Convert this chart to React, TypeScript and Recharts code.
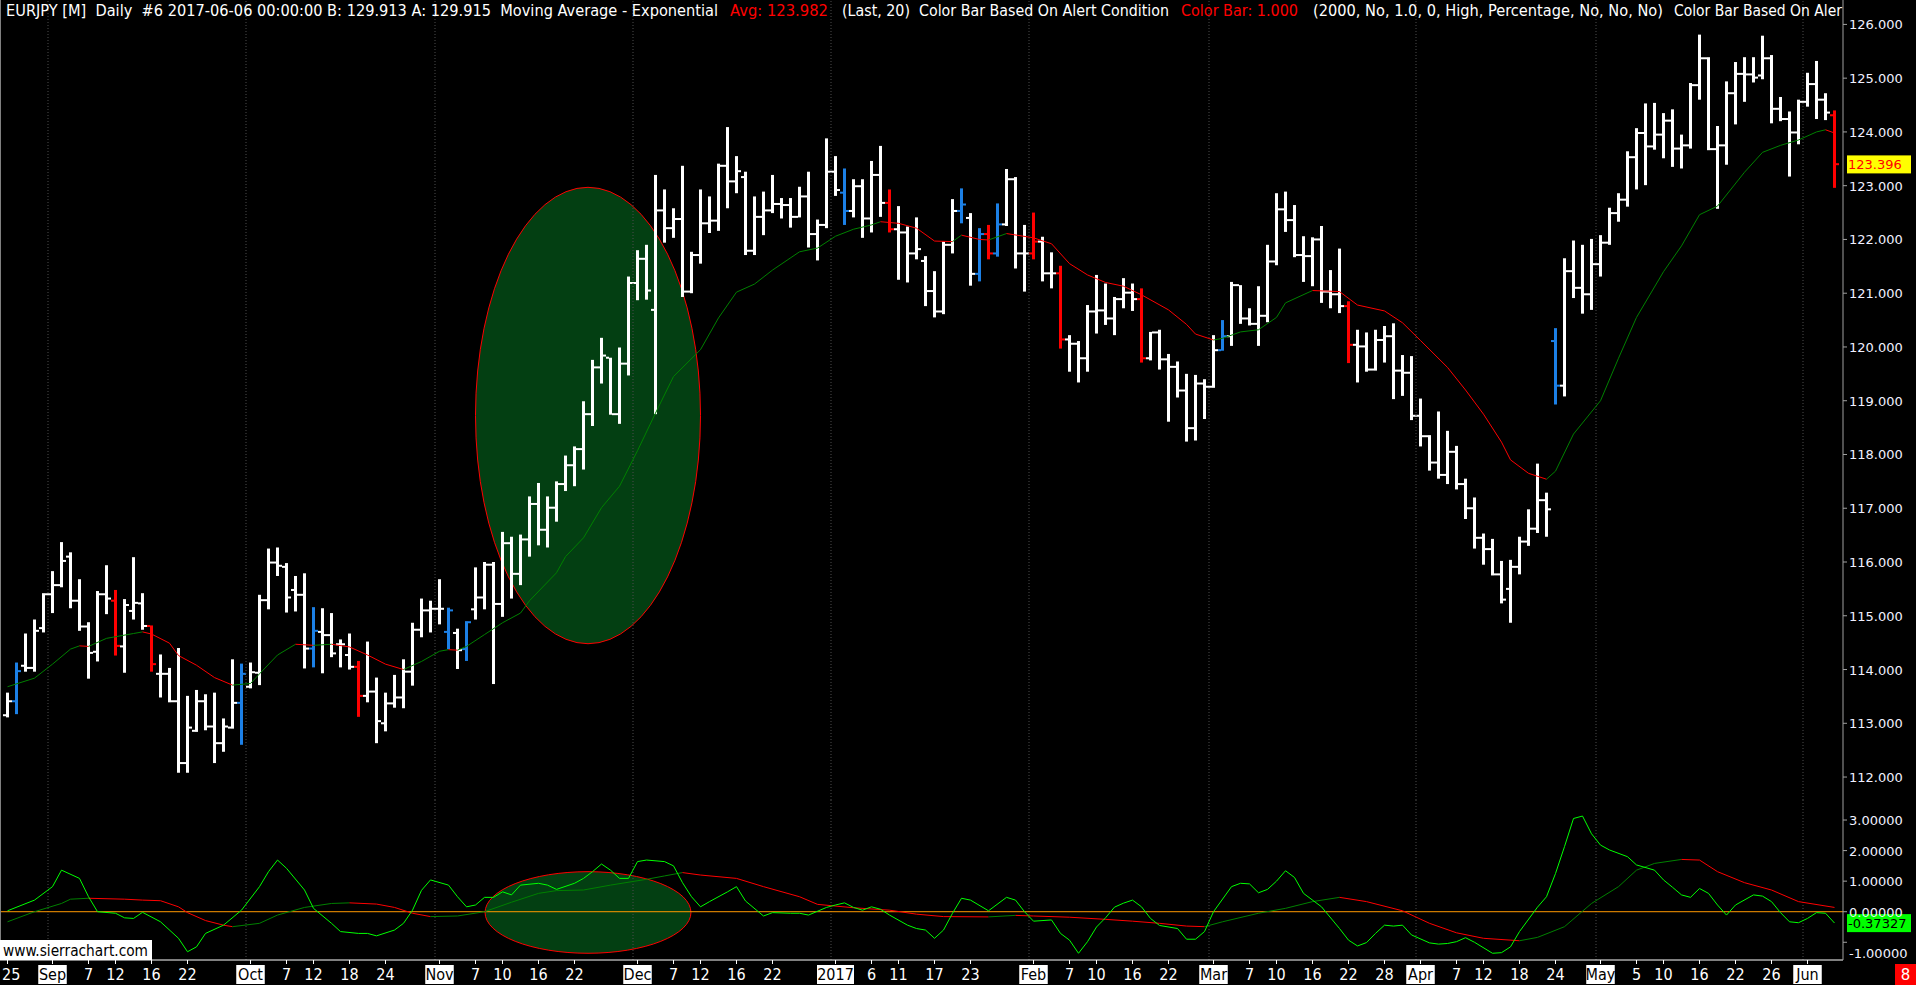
import React from "react";
import {
  ComposedChart,
  Bar,
  Line,
  XAxis,
  YAxis,
  ReferenceLine,
  ReferenceArea,
} from "recharts";

// EURJPY daily bars, 2016-08-25 .. 2017-06-06 (index = trading day)
const opens = [
  113.15, 113.41, 114.07, 114.03, 114.77, 115.4, 115.57, 116.1, 115.28, 114.8,
  114.33, 115.4, 115.28, 114.43, 115.09, 115.23, 114.81, 113.92, 113.92, 113.41,
  112.26, 112.86, 113.41, 112.94, 112.63, 112.92, 113.38, 113.68, 113.94, 115.29,
  115.99, 115.91, 115.48, 115.39, 114.39, 114.7, 114.64, 114.47, 114.27, 114.05,
  113.51, 113.59, 113.0, 113.37, 113.48, 113.96, 114.74, 115.1, 115.13, 114.7,
  114.68, 114.38, 115.12, 115.34, 115.95, 115.22, 116.35, 115.78, 116.42, 117.08,
  116.6, 117.01, 117.45, 117.8, 118.1, 118.75, 119.62, 119.8, 118.75, 119.69,
  121.19, 121.64, 120.69, 122.54, 122.21, 122.38, 121.03, 121.71, 122.3, 122.35,
  123.37, 123.08, 123.16, 121.79, 122.42, 122.54, 122.66, 122.64, 122.42, 122.8,
  122.1, 122.27, 123.26, 122.87, 122.53, 122.99, 122.39, 123.2, 122.68, 122.19,
  122.13, 121.74, 121.6, 121.04, 120.66, 121.9, 122.53, 122.4, 121.36, 122.1,
  121.74, 122.28, 123.12, 121.74, 121.74, 121.96, 121.37, 121.37, 120.14, 120.06,
  119.79, 120.66, 120.68, 120.53, 120.89, 121.01, 120.89, 119.79, 120.27, 119.77,
  119.63, 119.19, 118.49, 119.32, 119.26, 119.94, 120.2, 121.15, 120.53, 120.43,
  120.58, 121.59, 122.56, 122.36, 121.71, 121.69, 122.0, 121.03, 120.98, 120.76,
  120.04, 120.01, 119.58, 120.13, 120.2, 119.56, 119.52, 118.72, 118.34, 117.85,
  117.62, 118.05, 117.45, 117.0, 116.45, 116.24, 115.77, 115.5, 115.91, 116.38,
  116.62, 117.15, 120.11, 119.28, 121.41, 121.1, 120.98, 121.54, 121.94, 122.49,
  122.74, 123.53, 123.98, 123.73, 123.95, 124.21, 123.69, 123.75, 124.87, 125.37,
  123.68, 123.75, 124.72, 125.08, 125.07, 125.05, 125.37, 124.43, 124.24, 123.99,
  124.56, 124.89, 124.6, 124.31,
];
const highs = [
  113.57, 114.13, 114.67, 114.93, 115.42, 115.83, 116.37, 116.18, 115.68, 114.88,
  115.46, 115.94, 115.48, 115.31, 116.09, 115.42, 114.82, 114.28, 114.03, 114.4,
  113.51, 113.62, 113.54, 113.57, 113.09, 114.19, 114.11, 114.13, 115.39, 116.25,
  116.27, 115.98, 115.74, 115.79, 115.16, 115.14, 115.05, 114.56, 114.67, 114.16,
  114.52, 113.85, 113.57, 113.9, 114.19, 114.87, 115.32, 115.28, 115.68, 115.15,
  114.76, 114.9, 115.9, 116.0, 116.0, 116.56, 116.47, 116.51, 117.22, 117.47,
  117.22, 117.5, 117.98, 118.15, 118.99, 119.76, 120.17, 119.8, 119.99, 121.31,
  121.8, 121.9, 123.2, 122.93, 122.58, 123.37, 121.77, 122.93, 122.8, 123.41,
  124.09, 123.55, 123.26, 122.8, 122.89, 123.2, 122.77, 122.77, 122.98, 123.26,
  122.37, 123.88, 123.55, 123.32, 123.12, 123.12, 123.46, 123.74, 122.93, 122.62,
  122.24, 122.41, 121.69, 121.41, 121.96, 122.75, 122.95, 122.49, 122.21, 122.27,
  122.67, 123.31, 123.16, 122.27, 122.5, 122.05, 121.76, 121.51, 120.22, 120.11,
  120.78, 121.34, 121.18, 120.93, 121.28, 121.18, 121.09, 120.28, 120.32, 119.87,
  119.73, 119.5, 119.48, 119.4, 120.22, 120.5, 121.21, 121.15, 120.72, 121.13,
  121.9, 122.86, 122.89, 122.64, 122.06, 122.04, 122.25, 121.43, 121.83, 120.85,
  120.32, 120.27, 120.32, 120.39, 120.44, 119.85, 119.83, 119.04, 118.36, 118.8,
  118.44, 118.16, 117.55, 117.2, 116.53, 116.43, 116.02, 116.04, 116.47, 116.98,
  117.83, 117.29, 120.35, 121.65, 121.98, 121.9, 122.01, 122.08, 122.59, 122.86,
  123.64, 124.07, 124.53, 124.54, 124.35, 124.42, 123.95, 124.91, 125.81, 125.39,
  124.11, 124.94, 125.3, 125.39, 125.39, 125.79, 125.43, 124.65, 124.38, 124.6,
  125.1, 125.32, 124.72, 124.4,
];
const lows = [
  113.11, 113.17, 113.96, 113.96, 114.69, 115.05, 115.53, 115.14, 114.72, 113.83,
  114.15, 115.03, 114.26, 113.94, 114.93, 114.74, 113.96, 113.48, 113.39, 112.08,
  112.08, 112.84, 112.87, 112.26, 112.47, 112.9, 112.6, 113.65, 113.71, 115.12,
  115.74, 115.06, 115.08, 114.02, 114.04, 113.93, 114.23, 114.04, 114.0, 113.12,
  113.39, 112.63, 112.85, 113.29, 113.28, 113.7, 114.6, 114.69, 114.84, 114.38,
  114.01, 114.16, 114.93, 115.12, 113.73, 114.98, 115.32, 115.57, 116.1, 116.31,
  116.27, 116.75, 117.32, 117.41, 117.72, 118.53, 119.32, 118.74, 118.57, 119.47,
  120.87, 120.88, 118.75, 121.94, 122.03, 120.93, 121.0, 121.55, 122.12, 122.16,
  122.58, 122.86, 121.71, 121.71, 122.08, 122.49, 122.39, 122.22, 122.41, 121.85,
  121.61, 122.21, 122.81, 122.27, 122.41, 122.03, 122.13, 122.42, 122.13, 121.25,
  121.2, 121.63, 120.76, 120.55, 120.61, 121.74, 122.3, 121.14, 121.22, 121.63,
  121.68, 122.25, 121.46, 121.03, 121.63, 121.22, 121.09, 119.97, 119.54, 119.34,
  119.54, 120.25, 120.41, 120.22, 120.72, 120.67, 119.71, 119.75, 119.58, 118.61,
  119.06, 118.24, 118.26, 118.66, 119.24, 119.93, 120.02, 120.43, 120.4, 120.02,
  120.46, 121.52, 122.14, 121.67, 121.21, 121.13, 120.82, 120.72, 120.63, 119.7,
  119.34, 119.54, 119.56, 119.71, 119.03, 119.09, 118.64, 118.15, 117.7, 117.55,
  117.45, 117.35, 116.8, 116.25, 115.95, 115.75, 115.23, 114.87, 115.77, 116.3,
  116.54, 116.47, 118.93, 119.08, 120.91, 120.62, 120.69, 121.31, 121.9, 122.33,
  122.61, 122.93, 123.01, 123.67, 123.51, 123.35, 123.32, 123.69, 124.6, 123.66,
  122.57, 123.39, 124.14, 124.56, 124.92, 124.98, 124.16, 124.2, 123.17, 123.77,
  124.47, 124.24, 124.22, 122.96,
];
const closes = [
  113.41, 113.97, 114.03, 114.72, 115.4, 115.57, 116.02, 115.28, 114.8, 114.31,
  115.4, 115.32, 114.44, 115.2, 115.24, 114.81, 114.1, 113.92, 113.41, 112.26,
  112.92, 113.41, 112.94, 112.63, 112.94, 113.38, 113.92, 113.95, 115.29, 115.99,
  115.93, 115.34, 115.39, 114.39, 114.72, 114.64, 114.3, 114.47, 114.05, 113.51,
  113.59, 113.04, 113.37, 113.48, 113.96, 114.74, 115.1, 115.13, 115.13, 115.1,
  114.36, 114.88, 115.34, 115.95, 115.22, 116.35, 115.78, 116.42, 117.08, 116.6,
  117.01, 117.45, 117.8, 118.1, 118.75, 119.62, 119.84, 118.75, 119.69, 121.19,
  121.64, 121.05, 122.54, 122.21, 122.38, 121.03, 121.71, 122.3, 122.35, 123.37,
  123.08, 123.27, 121.79, 122.42, 122.54, 122.66, 122.64, 122.42, 122.8, 122.1,
  122.27, 123.26, 122.92, 122.53, 122.99, 122.39, 123.2, 122.68, 122.19, 122.13,
  121.74, 121.82, 121.04, 120.66, 121.9, 122.53, 122.65, 121.36, 122.1, 121.74,
  122.28, 123.12, 121.74, 121.74, 121.96, 121.37, 121.37, 120.14, 120.06, 119.79,
  120.66, 120.68, 120.53, 120.89, 121.01, 120.89, 119.79, 120.27, 119.77, 119.63,
  119.19, 118.49, 119.32, 119.26, 119.94, 120.2, 121.15, 120.53, 120.43, 120.58,
  121.59, 122.56, 122.36, 121.71, 121.69, 122.0, 121.03, 120.98, 120.76, 120.04,
  120.01, 119.58, 120.13, 120.2, 119.56, 119.52, 118.72, 118.34, 117.85, 117.62,
  118.05, 117.45, 117.0, 116.45, 116.24, 115.77, 115.3, 115.91, 116.38, 116.62,
  117.15, 116.98, 119.28, 121.41, 121.1, 120.98, 121.54, 121.94, 122.49, 122.74,
  123.53, 123.98, 123.73, 123.95, 124.21, 123.69, 123.75, 124.87, 125.37, 123.68,
  123.75, 124.72, 125.08, 125.07, 125.01, 125.37, 124.43, 124.24, 123.99, 124.56,
  124.89, 124.6, 124.36, 123.4,
];

// bars painted by the alert condition
const blueBars = [1, 26, 34, 49, 51, 93, 106, 108, 110, 135, 172];
const redBars = [12, 16, 39, 98, 109, 114, 117, 126, 149, 203];

// 20 period exponential moving average, read at its bends
const emaAt = [
  0, 3, 5, 7, 8, 9, 11, 14, 15, 16, 18, 19, 21, 23, 25, 27, 28, 30, 32, 34,
  36, 38, 40, 42, 44, 46, 48, 49, 50, 51, 53, 55, 57, 58, 61, 62, 64, 66, 68, 70,
  72, 74, 77, 79, 81, 83, 85, 88, 90, 92, 94, 96, 97, 99, 101, 103, 105, 106, 108, 109,
  111, 114, 116, 118, 120, 122, 124, 126, 129, 131, 132, 134, 135, 137, 139, 141, 142, 145, 148, 150,
  153, 155, 157, 160, 162, 164, 166, 167, 169, 171, 172, 174, 177, 179, 181, 184, 186, 188, 190, 193,
  195, 197, 199, 201, 202, 203,
];
const emaVal = [
  113.68, 113.84, 114.1, 114.38, 114.44, 114.43, 114.58, 114.67, 114.7, 114.66,
  114.49, 114.26, 114.08, 113.85, 113.71, 113.74, 113.92, 114.27, 114.47, 114.45,
  114.47, 114.42, 114.27, 114.1, 114.0, 114.15, 114.34, 114.37, 114.36, 114.43,
  114.65, 114.87, 115.05, 115.28, 115.8, 116.1, 116.45, 117.01, 117.41, 118.07,
  118.77, 119.45, 119.95, 120.54, 121.02, 121.17, 121.43, 121.77, 121.84, 122.06,
  122.19, 122.27, 122.33, 122.3, 122.21, 121.97, 121.96, 122.08, 122.0, 121.99,
  122.11, 122.03, 121.92, 121.55, 121.34, 121.2, 121.13, 120.97, 120.69, 120.42,
  120.24, 120.13, 120.16, 120.28, 120.32, 120.55, 120.82, 121.05, 121.03, 120.78,
  120.67, 120.45, 120.12, 119.62, 119.2, 118.75, 118.23, 117.9, 117.65, 117.54,
  117.69, 118.38, 119.0, 119.79, 120.55, 121.4, 121.88, 122.46, 122.62, 123.25,
  123.62, 123.75, 123.85, 124.0, 124.04, 123.98,
];

// lower study: oscillator (bright green) and its average (green/red)
const oscAt = [
  0, 3, 5, 6, 8, 9, 10, 12, 13, 14, 15, 17, 19, 20, 21, 22, 24, 26, 28, 29,
  30, 31, 33, 34, 36, 37, 39, 40, 41, 43, 44, 45, 46, 47, 49, 50, 51, 52, 53, 54,
  55, 56, 57, 59, 60, 61, 63, 64, 65, 66, 67, 68, 69, 70, 71, 73, 74, 75, 76, 77,
  78, 80, 81, 82, 84, 85, 87, 88, 89, 91, 92, 93, 94, 95, 96, 97, 98, 100, 101, 102,
  103, 104, 105, 106, 107, 109, 111, 112, 113, 114, 116, 117, 118, 119, 120, 121, 122, 123, 124, 125,
  126, 127, 128, 130, 131, 132, 133, 134, 136, 137, 138, 139, 140, 141, 142, 143, 144, 146, 148, 149,
  150, 151, 152, 153, 154, 155, 156, 158, 159, 160, 161, 162, 163, 165, 166, 167, 168, 170, 171, 172,
  173, 174, 175, 176, 177, 178, 180, 181, 183, 184, 185, 186, 187, 188, 189, 190, 191, 192, 194, 195,
  196, 197, 198, 199, 200, 201, 202, 203,
];
const oscVal = [
  0.03, 0.38, 0.82, 1.36, 1.09, 0.49, 0.0, -0.05, -0.2, -0.22,
  -0.02, -0.33, -0.87, -1.31, -1.15, -0.71, -0.44, 0.05, 0.82, 1.31,
  1.69, 1.42, 0.71, 0.11, -0.38, -0.65, -0.71, -0.71, -0.79, -0.6,
  -0.38, 0.05, 0.7, 1.04, 0.87, 0.49, 0.16, 0.22, 0.47, 0.47,
  0.65, 0.55, 0.87, 0.93, 0.87, 0.73, 0.93, 1.09, 1.31, 1.56,
  1.36, 1.09, 1.09, 1.64, 1.69, 1.64, 1.5, 0.95, 0.49, 0.16,
  0.33, 0.65, 0.82, 0.35, -0.14, -0.03, -0.05, -0.05, -0.11, 0.14,
  0.22, 0.29, 0.14, 0.05, 0.16, 0.08, -0.11, -0.44, -0.55, -0.6,
  -0.87, -0.6, -0.05, 0.44, 0.38, 0.03, 0.47, 0.38, 0.0, -0.31,
  -0.27, -0.71, -0.93, -1.36, -0.98, -0.5, -0.2, 0.15, 0.28, 0.38,
  0.16, -0.22, -0.45, -0.55, -0.9, -0.9, -0.65, 0.0, 0.82, 0.93,
  0.91, 0.62, 0.73, 1.0, 1.34, 1.12, 0.6, 0.16, -0.55, -0.93,
  -1.12, -1.01, -0.71, -0.44, -0.47, -0.44, -0.76, -1.02, -1.06, -1.04,
  -0.98, -0.85, -1.0, -1.36, -1.34, -1.15, -0.65, 0.15, 0.49, 1.25,
  2.13, 3.05, 3.13, 2.55, 2.18, 2.02, 1.8, 1.53, 1.36, 1.04,
  0.8, 0.55, 0.47, 0.76, 0.6, 0.22, -0.11, 0.22, 0.55, 0.51,
  0.33, -0.03, -0.33, -0.36, -0.22, -0.03, -0.05, -0.37,
];
const sigAt = [
  0, 3, 6, 7, 9, 13, 15, 17, 19, 20, 22, 24, 25, 28, 30, 33, 36, 38, 41, 43,
  45, 47, 50, 53, 56, 59, 61, 64, 67, 71, 73, 75, 77, 81, 84, 88, 90, 94, 98, 101,
  104, 109, 112, 114, 118, 122, 125, 128, 131, 133, 135, 139, 142, 145, 148, 151, 155, 158, 161, 164,
  168, 170, 173, 176, 179, 181, 183, 186, 188, 190, 193, 196, 199, 203,
];
const sigVal = [
  -0.33, 0.0, 0.27, 0.41, 0.44, 0.41, 0.38, 0.36, 0.16, -0.03,
  -0.29, -0.44, -0.49, -0.38, -0.11, 0.14, 0.27, 0.29, 0.25, 0.14,
  -0.05, -0.16, -0.14, 0.0, 0.31, 0.6, 0.69, 0.71, 0.87, 1.06,
  1.17, 1.28, 1.2, 1.09, 0.82, 0.49, 0.24, 0.13, 0.05, -0.08,
  -0.16, -0.17, -0.12, -0.14, -0.18, -0.25, -0.31, -0.38, -0.47, -0.49,
  -0.33, -0.05, 0.11, 0.33, 0.47, 0.33, 0.03, -0.38, -0.69, -0.87,
  -0.95, -0.84, -0.49, 0.27, 0.82, 1.36, 1.58, 1.71, 1.69, 1.31,
  0.95, 0.71, 0.33, 0.14,
];

// date axis
const tickAt = [
  0, 5, 9, 12, 16, 20, 27, 31, 34, 38, 42, 48, 52, 55, 59, 63, 70, 74, 77, 81,
  85, 92, 96, 99, 103, 107, 114, 118, 121, 125, 129, 134, 138, 141, 145, 149, 153, 157, 161, 164,
  168, 172, 177, 181, 184, 188, 192, 196, 200,
];
const tickText = [
  "25", "Sep", "7", "12", "16", "22", "Oct", "7", "12", "18", "24", "Nov", "7", "10", "16", "22",
  "Dec", "7", "12", "16", "22", "2017", "6", "11", "17", "23", "Feb", "7", "10", "16", "22",
  "Mar", "7", "10", "16", "22", "28", "Apr", "7", "12", "18", "24", "May", "5", "10", "16", "22",
  "26", "Jun",
];
const monthStarts = [5, 27, 48, 70, 92, 114, 134, 157, 177, 200];

const priceTicks = [112, 113, 114, 115, 116, 117, 118, 119, 120, 121, 122, 123, 124, 125, 126];
const studyTicks = [-1, 0, 1, 2, 3];

const lastPrice = 123.396;
const lastStudy = -0.37327;

// drawings: [x1, x2, y1, y2]
const priceEllipse = [52, 77, 114.48, 122.97];
const studyEllipse = [53.06, 75.94, -1.36, 1.31];

const X_DOMAIN: [number, number] = [-7.5 / 9, (1843 - 7.5) / 9];
const COND = "'Liberation Sans Narrow','DejaVu Sans Condensed','Liberation Sans',sans-serif";
const AXIS_FONT = "'DejaVu Sans',Verdana,sans-serif";
const UP = "#008000";
const DOWN = "#ff0000";
const TONES = ["#ffffff", "#1c80e6", "#ff0000"];

type Run = { key: string; up: boolean; pts: [number, number][] };

function toRuns(prefix: string, at: number[], val: number[]): Run[] {
  const runs: Run[] = [];
  for (let k = 0; k + 1 < at.length; k++) {
    const up = val[k + 1] >= val[k];
    const cur = runs[runs.length - 1];
    if (cur && cur.up === up) cur.pts.push([at[k + 1], val[k + 1]]);
    else
      runs.push({
        key: `${prefix}${runs.length}`,
        up,
        pts: [
          [at[k], val[k]],
          [at[k + 1], val[k + 1]],
        ],
      });
  }
  return runs;
}

const emaRuns = toRuns("ema", emaAt, emaVal);
const sigRuns = toRuns("sig", sigAt, sigVal);

const rows: Record<string, any>[] = closes.map((c, i) => ({
  i,
  hl: [lows[i], highs[i]],
  o: opens[i],
  h: highs[i],
  l: lows[i],
  c,
  tone: blueBars.includes(i) ? 1 : redBars.includes(i) ? 2 : 0,
}));
for (const r of [...emaRuns, ...sigRuns]) {
  for (const [i, v] of r.pts) rows[i][r.key] = v;
}
oscAt.forEach((i, k) => {
  rows[i].osc = oscVal[k];
});

function OhlcBar(props: any) {
  const { x, y, width, height, payload } = props;
  if (x == null || !payload) return null;
  const cx = x + width / 2;
  const top = Math.min(y, y + height);
  const h = Math.abs(height);
  const span = payload.h - payload.l || 1;
  const py = (v: number) => top + ((payload.h - v) / span) * h;
  const fill = TONES[payload.tone];
  return (
    <g>
      <rect x={cx - 1.5} y={top} width={3} height={Math.max(h, 1)} fill={fill} />
      <rect x={cx - 4.5} y={py(payload.o) - 1} width={3} height={2} fill={fill} />
      <rect x={cx + 1.5} y={py(payload.c) - 1} width={3} height={2} fill={fill} />
    </g>
  );
}

function EllipseShape(props: any) {
  const { x, y, width, height } = props;
  return (
    <ellipse
      cx={x + width / 2}
      cy={y + height / 2}
      rx={Math.abs(width) / 2}
      ry={Math.abs(height) / 2}
      fill="#033f12"
      stroke="#ff0000"
      strokeWidth={1}
    />
  );
}

function PriceTick(props: any) {
  const { x, y, payload } = props;
  return (
    <text x={x} y={y} dy={5} fill="#f0f0ff" fontSize={13} fontFamily={AXIS_FONT}>
      {payload.value.toFixed(3)}
    </text>
  );
}

function StudyTick(props: any) {
  const { x, y, payload } = props;
  return (
    <text
      x={x}
      y={y}
      dy={payload.value === -1 ? 16 : 5}
      fill="#f0f0ff"
      fontSize={13}
      fontFamily={AXIS_FONT}
    >
      {payload.value.toFixed(5)}
    </text>
  );
}

function DateTick(props: any) {
  const { x, y, payload } = props;
  const k = tickAt.indexOf(payload.value);
  if (k < 0) return null;
  const label = tickText[k];
  const isMonth = monthStarts.includes(payload.value);
  const w = label.length * 8.5 + 3;
  const atEdge = x - w / 2 < 1;
  return (
    <g>
      <line x1={x} x2={x} y1={y} y2={y + 4} stroke="#ffffff" />
      {isMonth && <rect x={x - w / 2} y={y + 5} width={w} height={19} fill="#ffffff" />}
      <text
        x={atEdge ? 2 : x}
        y={y + 20}
        textAnchor={atEdge ? "start" : "middle"}
        fill={isMonth ? "#000000" : "#ffffff"}
        fontSize={16}
        fontFamily={COND}
        style={{ fontStretch: "condensed" }}
      >
        {label}
      </text>
    </g>
  );
}

function ValueTag({ viewBox, text, bg, fg }: any) {
  if (!viewBox) return null;
  const x = viewBox.x + viewBox.width + 4;
  const y = viewBox.y;
  return (
    <g>
      <rect x={x} y={y - 9} width={64} height={18} fill={bg} />
      <text x={x + 1} y={y + 5} fill={fg} fontSize={13} fontFamily={AXIS_FONT}>
        {text}
      </text>
    </g>
  );
}

const gridLines = (prefix: string) =>
  monthStarts.map((m) => (
    <ReferenceLine
      key={`${prefix}${m}`}
      x={m - 0.5}
      stroke="#4c4c4c"
      strokeDasharray="1 2"
    />
  ));

// study title line at the top of the price pane
const headerParts = [
  { x: 6, w: 712, red: false, text: "EURJPY [M]  Daily  #6 2017-06-06 00:00:00 B: 129.913 A: 129.915  Moving Average - Exponential" },
  { x: 730, w: 98, red: true, text: "Avg: 123.982" },
  { x: 842, w: 327, red: false, text: "(Last, 20)  Color Bar Based On Alert Condition" },
  { x: 1181, w: 117, red: true, text: "Color Bar: 1.000" },
  { x: 1313, w: 350, red: false, text: "(2000, No, 1.0, 0, High, Percentage, No, No, No)" },
  { x: 1674, w: 168, red: false, text: "Color Bar Based On Aler" },
];

function Header() {
  return (
    <svg
      width={1916}
      height={985}
      style={{ position: "absolute", left: 0, top: 0, pointerEvents: "none" }}
    >
      {headerParts.map((p) => (
        <text
          key={p.x}
          x={p.x}
          y={16}
          fontSize={15}
          fontFamily={COND}
          fill={p.red ? "#ff0000" : "#ffffff"}
          textLength={p.w}
          lengthAdjust="spacingAndGlyphs"
          style={{ whiteSpace: "pre" }}
        >
          {p.text}
        </text>
      ))}
      <line x1={0.5} x2={0.5} y1={0} y2={960} stroke="#808080" />
      <rect x={0} y={940} width={152} height={20} fill="#ffffff" />
      <text
        x={3}
        y={956}
        fontSize={15}
        fontFamily={COND}
        fill="#000000"
        textLength={145}
        lengthAdjust="spacingAndGlyphs"
      >
        www.sierrachart.com
      </text>
      <rect x={1895} y={964} width={21} height={21} fill="#ff0000" />
      <text x={1905.5} y={980} textAnchor="middle" fontSize={15} fontFamily={AXIS_FONT} fill="#ffffff">
        8
      </text>
    </svg>
  );
}

export default function App() {
  return (
    <div
      style={{
        position: "absolute",
        left: 0,
        top: 0,
        width: 1916,
        height: 985,
        background: "#000000",
        overflow: "hidden",
      }}
    >
      <div style={{ position: "absolute", left: 0, top: 0 }}>
        <ComposedChart
          width={1916}
          height={800}
          data={rows}
          margin={{ top: 0, right: 0, bottom: 0, left: 0 }}
        >
          <XAxis type="number" dataKey="i" domain={X_DOMAIN} allowDataOverflow hide />
          <YAxis
            orientation="right"
            width={73}
            type="number"
            domain={[111.573, 126.454]}
            allowDataOverflow
            ticks={priceTicks}
            interval={0}
            tick={<PriceTick />}
            tickSize={4}
            tickMargin={2}
            tickLine={{ stroke: "#a0a0a0" }}
            axisLine={{ stroke: "#a0a0a0" }}
          />
          {gridLines("pg")}
          <ReferenceArea
            x1={priceEllipse[0]}
            x2={priceEllipse[1]}
            y1={priceEllipse[2]}
            y2={priceEllipse[3]}
            shape={<EllipseShape />}
          />
          <Bar dataKey="hl" barSize={3} shape={<OhlcBar />} isAnimationActive={false} />
          {emaRuns.map((r) => (
            <Line
              key={r.key}
              dataKey={r.key}
              stroke={r.up ? UP : DOWN}
              strokeWidth={1}
              dot={false}
              activeDot={false}
              connectNulls
              isAnimationActive={false}
            />
          ))}
          <ReferenceLine
            y={lastPrice}
            stroke="none"
            label={(p: any) => (
              <ValueTag viewBox={p.viewBox} text="123.396" bg="#ffff00" fg="#ff0000" />
            )}
          />
        </ComposedChart>
      </div>
      <div style={{ position: "absolute", left: 0, top: 800 }}>
        <ComposedChart
          width={1916}
          height={185}
          data={rows}
          margin={{ top: 0, right: 0, bottom: 0, left: 0 }}
        >
          <XAxis
            type="number"
            dataKey="i"
            domain={X_DOMAIN}
            allowDataOverflow
            ticks={tickAt}
            interval={0}
            height={25}
            tick={<DateTick />}
            tickSize={0}
            tickMargin={0}
            tickLine={false}
            axisLine={{ stroke: "#ffffff" }}
          />
          <YAxis
            orientation="right"
            width={73}
            type="number"
            domain={[-1.58, 3.655]}
            allowDataOverflow
            ticks={studyTicks}
            interval={0}
            tick={<StudyTick />}
            tickSize={4}
            tickMargin={2}
            tickLine={{ stroke: "#a0a0a0" }}
            axisLine={{ stroke: "#a0a0a0" }}
          />
          {gridLines("sg")}
          <ReferenceArea
            x1={studyEllipse[0]}
            x2={studyEllipse[1]}
            y1={studyEllipse[2]}
            y2={studyEllipse[3]}
            shape={<EllipseShape />}
          />
          <ReferenceLine y={0} stroke="#ff9900" strokeWidth={1} />
          {sigRuns.map((r) => (
            <Line
              key={r.key}
              dataKey={r.key}
              stroke={r.up ? UP : DOWN}
              strokeWidth={1}
              dot={false}
              activeDot={false}
              connectNulls
              isAnimationActive={false}
            />
          ))}
          <Line
            dataKey="osc"
            stroke="#00ff00"
            strokeWidth={1}
            dot={false}
            activeDot={false}
            connectNulls
            isAnimationActive={false}
          />
          <ReferenceLine
            y={lastStudy}
            stroke="none"
            label={(p: any) => (
              <ValueTag viewBox={p.viewBox} text="-0.37327" bg="#00ff00" fg="#000000" />
            )}
          />
        </ComposedChart>
      </div>
      <Header />
    </div>
  );
}
